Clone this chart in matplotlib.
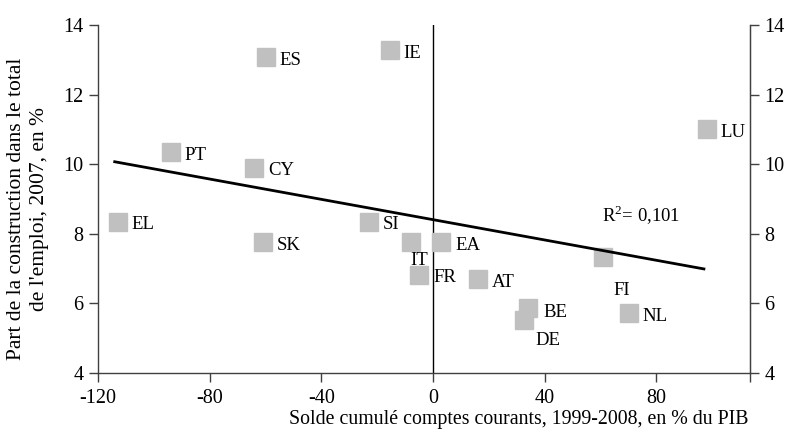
import matplotlib
matplotlib.use("Agg")
import matplotlib.pyplot as plt

plt.rcParams['font.family'] = ['Liberation Serif', 'DejaVu Serif']
plt.rcParams['mathtext.fontset'] = 'custom'
plt.rcParams['mathtext.rm'] = 'Liberation Serif'

# Current account balance (x) vs construction share of employment (y)
countries = ['ES', 'IE', 'PT', 'CY', 'EL', 'SK', 'SI', 'IT', 'EA',
             'FR', 'AT', 'BE', 'DE', 'FI', 'NL', 'LU']
balance = [-60, -15.5, -94, -64, -113, -61, -23, -8, 3,
           -5, 16, 34, 32.5, 61, 70, 98]
construction = [13.08, 13.28, 10.35, 9.9, 8.34, 7.76, 8.34, 7.76, 7.76,
                6.82, 6.7, 5.87, 5.52, 7.33, 5.72, 11.0]

# fitted trend line (endpoints) and its R²
trend_x = [-114, 97]
trend_y = [10.07, 6.99]
r2 = '0,101'

xticks = [-120, -80, -40, 0, 40, 80]
yticks = [4, 6, 8, 10, 12, 14]

# label offsets in pixels (dx, dy), default right of the square
offsets = {'IT': (0, -18), 'FI': (10, -33), 'DE': (12, -20), 'BE': (15, -5)}

fig = plt.figure(figsize=(7.9, 4.34), dpi=100)
ax = fig.add_axes([0.124, 0.1406, 0.825, 0.8018])

ax.plot(balance, construction, 's', color='#c0c0c0', markersize=13, zorder=2)
ax.plot(trend_x, trend_y, color='black', lw=2.0, zorder=3)
ax.axvline(0, color='black', lw=1.0, zorder=1)

for c, x, y in zip(countries, balance, construction):
    dx, dy = offsets.get(c, (14, -3))
    ax.annotate(c, (x, y), xytext=(dx * 0.72, dy * 0.72), textcoords='offset points',
                ha='left', va='center', fontsize=13.5)

ax.text(60.5, 8.35, r'$\mathrm{R}^{2}$= ' + r2, fontsize=13.5, ha='left', va='baseline')

ax.set_xlim(-120, 113.4)
ax.set_ylim(4, 14)
ax.set_xticks(xticks + [113.4])
ax.set_xticklabels([str(t) for t in xticks] + [''])
ax.set_yticks(yticks)

ax.spines['top'].set_visible(False)
for s in ['left', 'bottom', 'right']:
    ax.spines[s].set_color('#404040')
    ax.spines[s].set_linewidth(1.0)
ax.tick_params(axis='both', length=6.5, width=1.0, color='#404040', labelsize=14.5)
ax.tick_params(axis='y', pad=4)
ax.tick_params(axis='x', pad=5)

ax2 = ax.twinx()
ax2.set_ylim(4, 14)
ax2.set_yticks(yticks)
for s in ['top', 'left', 'bottom']:
    ax2.spines[s].set_visible(False)
ax2.spines['right'].set_color('#404040')
ax2.tick_params(axis='y', length=6.5, width=1.0, color='#404040', labelsize=14.5, pad=4)

fig.text(0.0354, 0.518, "Part de la construction dans le total\nde l'emploi, 2007, en %",
         rotation=90, ha='center', va='center', fontsize=15.5, linespacing=1.25)
fig.text(0.947, 0.022, 'Solde cumulé comptes courants, 1999-2008, en % du PIB',
         ha='right', va='baseline', fontsize=14.3)

fig.savefig('out.png', dpi=100)
